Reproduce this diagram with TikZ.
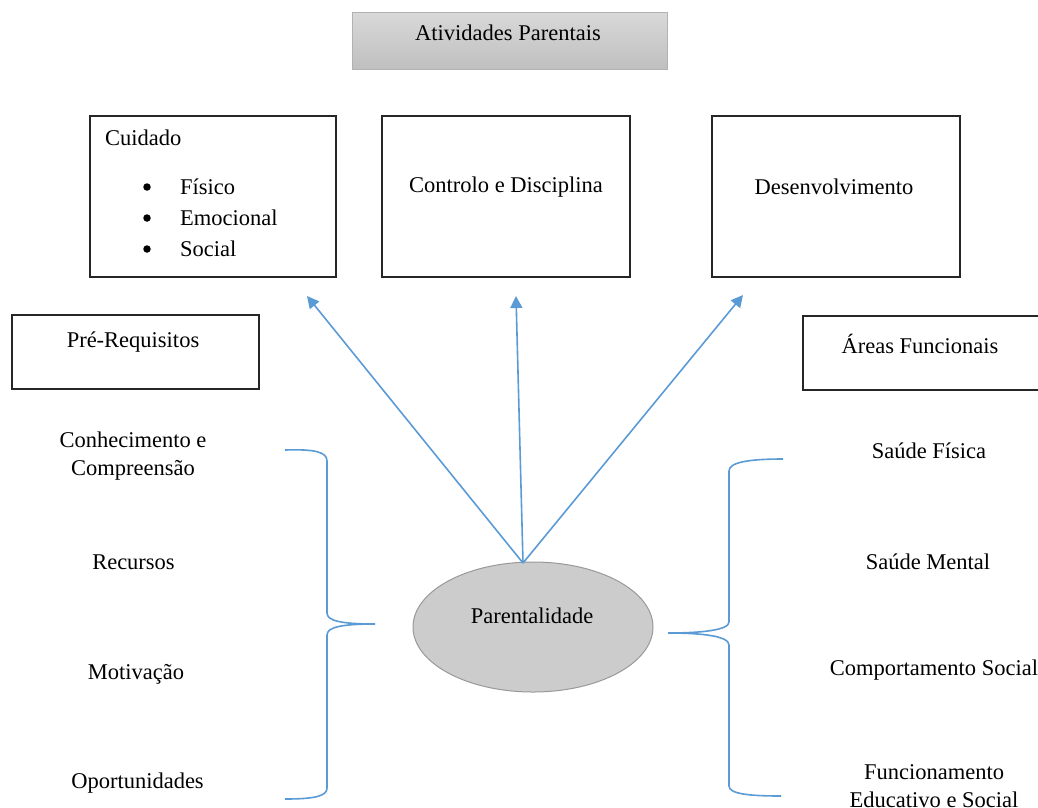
\documentclass[tikz,border=0pt]{standalone}
\usepackage{fontspec}
\setmainfont{Liberation Serif}
\usetikzlibrary{shapes.geometric,arrows.meta}
\definecolor{linkblue}{HTML}{5B9BD5}
\begin{document}
\begin{tikzpicture}
  [x=1pt,y=-1pt,every node/.style={font=\fontsize{22.5}{28}\selectfont,inner sep=0pt}]
  \tikzstyle{box} = [draw=black!85,line width=1.3pt,rectangle]
  \tikzstyle{head} = [draw=black!30,line width=1pt,rectangle,top color=black!15,bottom color=black!25]
  \tikzstyle{ell} = [ellipse,draw=black!40,line width=1pt,fill=black!20]
  \tikzstyle{dot} = [circle,fill=black,minimum size=7.5pt]
  \tikzstyle{link} = [draw=linkblue,line width=1.6pt]
  \tikzstyle{arrow} = [link,-{Triangle[length=12pt,width=12pt]}]
  \useasboundingbox (0,0) rectangle (1038,807);
  % boxes
  \node[head,minimum width=315,minimum height=57] (ativ) at (509.5,40.5) {};
  \node[box,minimum width=246,minimum height=161] (cuid) at (213,196.5) {};
  \node[box,minimum width=248,minimum height=161] (ctrl) at (506,196.5) {};
  \node[box,minimum width=248,minimum height=161] (desenv) at (836,196.5) {};
  \node[box,minimum width=247,minimum height=74] (prereq) at (135.5,352) {};
  \node[box,minimum width=244,minimum height=74] (areas) at (925,353) {};
  \node[ell,minimum width=240,minimum height=130] (par) at (533,627) {};
  % texts
  \node at (508,33) {Atividades Parentais};
  \node[anchor=west] at (105,138) {Cuidado};
  \foreach \y/\item in {187/Físico,218/Emocional,249/Social} {
    \node[dot] at (147,\y) {};
    \node[anchor=west] at (180,\y) {\item};
  }
  \node at (506,187) {Controlo e Disciplina};
  \node at (834,187) {Desenvolvimento};
  \node at (133,342) {Pré-Requisitos};
  \node at (920,344) {Áreas Funcionais};
  \node at (532,616) {Parentalidade};
  \node[align=center] at (133,456) {Conhecimento e\\Compreensão};
  \foreach \x/\y/\txt in {133.5/562/Recursos,136/674/Motivação,137.5/783/Oportunidades}
    \node at (\x,\y) {\txt};
  \foreach \x/\y/\txt in {929/451/Saúde Física,928/562/Saúde Mental,934/670/Comportamento Social}
    \node at (\x,\y) {\txt};
  \node[align=center] at (934,786) {Funcionamento\\Educativo e Social};
  % arrows
  \coordinate (src) at (523,563);
  \coordinate (t1) at (307,296);
  \coordinate (t2) at (516,296);
  \coordinate (t3) at (743,295);
\foreach \dest in {t1,t2,t3}
   \draw[arrow] (src) -- (\dest);
  % braces
  \draw[link] (285,450) .. controls (315,449) and (327,452) .. (327,461) -- (327,613)
    .. controls (327,621) and (342,624) .. (375,624)
    .. controls (342,624) and (327,627) .. (327,635) -- (327,788)
    .. controls (327,796) and (315,799) .. (285,799);
  \draw[link] (783,459) .. controls (750,459) and (729,462) .. (729,471) -- (729,622)
    .. controls (729,630) and (702,633) .. (668,633)
    .. controls (702,633) and (729,636) .. (729,645) -- (729,786)
    .. controls (729,794) and (750,796) .. (781,796);
\end{tikzpicture}
\end{document}
